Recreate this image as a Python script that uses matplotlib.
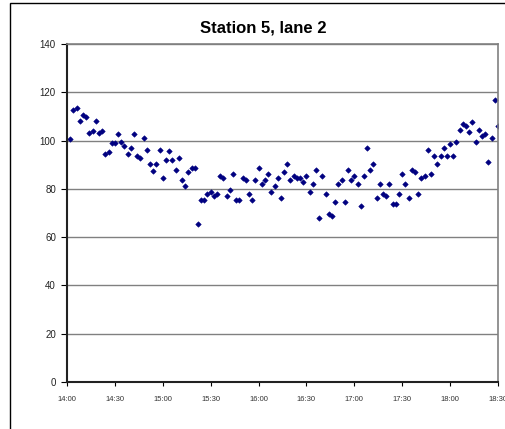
import numpy as np
import matplotlib
matplotlib.use("Agg")
import matplotlib.pyplot as plt
from matplotlib.patches import Rectangle

plt.rcParams['font.family'] = ['Liberation Sans', 'DejaVu Sans']

# readings every 2 minutes from 14:02 to 18:30 (minutes after 14:00)
minutes = np.arange(2, 272, 2)
values = [
    100.5, 112.7, 113.5, 108, 110.5, 109.6, 103, 103.8, 108, 103,
    103.8, 94.6, 95.3, 98.8, 98.8, 102.8, 99.5, 97.8, 94.6, 97,
    102.8, 93.7, 92.8, 101.2, 96.2, 90.5, 87.2, 90.5, 96.2, 84.6,
    92, 95.5, 92, 87.8, 92.8, 83.8, 81.3, 87, 88.7, 88.7,
    65.6, 75.5, 75.5, 78, 78.8,
    77, 77.9, 85.3, 84.5, 77, 79.5, 86.2, 75.4, 75.4, 84.5,
    83.7, 77.9, 75.4, 83.7, 88.6, 82, 83.7, 86.2, 78.7, 81.2,
    84.5, 76.2, 87, 90.3, 83.7, 85.3, 84.5, 84.5, 82.8, 85.3,
    78.7, 82, 87.8, 67.9, 85.3, 77.9, 69.6, 68.8, 74.6, 82,
    83.7, 74.6, 87.8, 83.7, 85.3, 82,
    72.9, 85.3, 96.9, 87.8, 90.3, 76.2, 82, 77.9, 77, 82,
    73.7, 73.7, 77.9, 86.2, 82, 76.2, 87.8, 87, 77.9, 84.5, 85.3,
    96.1, 86.2, 93.6, 90.5, 93.6, 96.9, 93.6, 98.6, 93.6, 99.4,
    104.4, 106.9, 106, 103.6, 107.7, 99.4, 104.4, 101.9, 102.7, 91.1,
    101.1, 116.8, 106,
]
tick_minutes = [0, 30, 60, 90, 120, 150, 180, 210, 240, 270]
tick_labels = ['14:00', '14:30', '15:00', '15:30', '16:00',
               '16:30', '17:00', '17:30', '18:00', '18:30']
y_ticks = [0, 20, 40, 60, 80, 100, 120, 140]

fig = plt.figure(figsize=(5.05, 4.29), dpi=100)
ax = fig.add_axes([67/505, 47/429, 431/505, 338/429])

# outer chart border (cut off at right and bottom like the original)
fig.patches.append(Rectangle((10/505, -0.1), 1.2, 1 - 3/429 + 0.1,
                             transform=fig.transFigure, fill=False,
                             edgecolor='black', lw=1.0))

ax.grid(axis='y', color='#808080', lw=1.0)
ax.set_axisbelow(True)
ax.plot(minutes, values, linestyle='none', marker='D', markersize=2.8,
        color='#000080', markeredgewidth=0.4)

ax.set_xlim(0, 270)
ax.set_ylim(0, 140)
ax.set_xticks(tick_minutes)
ax.set_xticklabels(tick_labels, fontsize=5.5, color='#333333')
ax.set_yticks(y_ticks)
ax.set_yticklabels([str(v) for v in y_ticks], fontsize=7, color='#222222')
ax.tick_params(axis='y', direction='out', length=4, width=0.8, pad=4)
ax.tick_params(axis='x', direction='out', length=3, width=0.8, pad=7)

for s in ['top', 'right']:
    ax.spines[s].set_color('#808080')
    ax.spines[s].set_linewidth(1.2)
for s in ['left', 'bottom']:
    ax.spines[s].set_color('#222222')
    ax.spines[s].set_linewidth(1.5)

fig.text(263/505, 1 - 28/429, 'Station 5, lane 2', ha='center', va='center',
         fontsize=12, fontweight='bold')

fig.savefig('out.png', dpi=100)
